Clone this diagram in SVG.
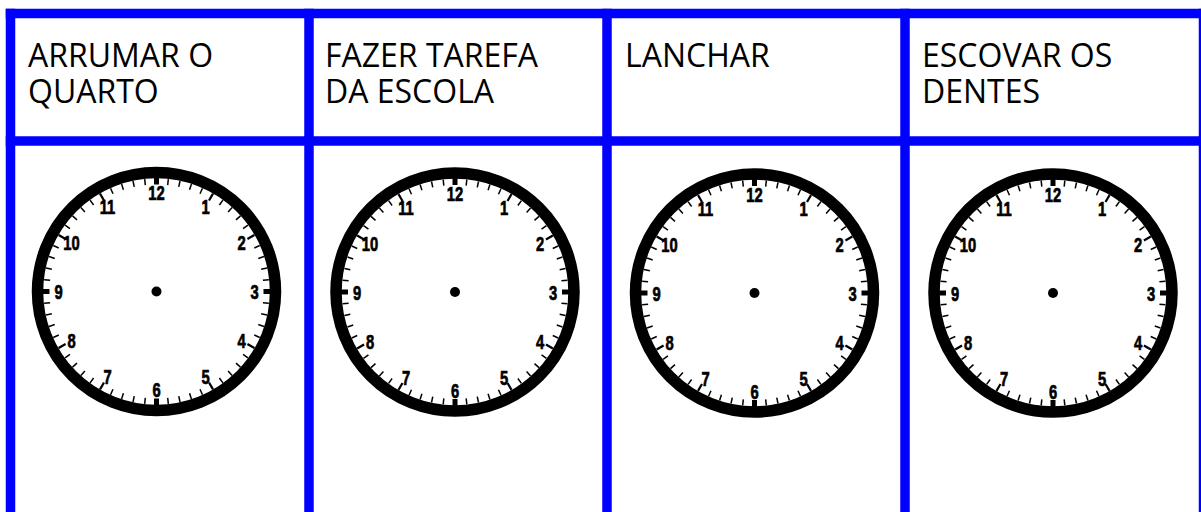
<svg xmlns="http://www.w3.org/2000/svg" xmlns:xlink="http://www.w3.org/1999/xlink" width="1201" height="512" viewBox="0 0 1201 512">
<style>
.grid line{stroke:#0000ff;stroke-width:9.5;stroke-linecap:square}
.title{font-family:"Open Sans","Noto Sans",sans-serif;font-size:32px;fill:#000}
.num{font-family:"Liberation Sans",Arial,sans-serif;font-weight:bold;font-size:20.5px;fill:#000;stroke:#000;stroke-width:0.7;text-anchor:middle}
.mt{stroke:#000;stroke-width:1.5}
.ht{stroke:#000;stroke-width:2.2}
</style>
<defs>
<line id="mt" class="mt" x1="0" y1="-113" x2="0" y2="-107"/>
<line id="ht" class="ht" x1="0" y1="-113" x2="0" y2="-105"/>
<rect id="qt" x="-2.5" y="-116" width="5" height="9" fill="#000"/>
<g id="clock">
<circle r="119" fill="#fff" stroke="#000" stroke-width="11.5"/>
<g>
<use xlink:href="#mt" transform="rotate(6)"/><use xlink:href="#mt" transform="rotate(12)"/><use xlink:href="#mt" transform="rotate(18)"/><use xlink:href="#mt" transform="rotate(24)"/>
<use xlink:href="#mt" transform="rotate(36)"/><use xlink:href="#mt" transform="rotate(42)"/><use xlink:href="#mt" transform="rotate(48)"/><use xlink:href="#mt" transform="rotate(54)"/>
<use xlink:href="#mt" transform="rotate(66)"/><use xlink:href="#mt" transform="rotate(72)"/><use xlink:href="#mt" transform="rotate(78)"/><use xlink:href="#mt" transform="rotate(84)"/>
<use xlink:href="#mt" transform="rotate(96)"/><use xlink:href="#mt" transform="rotate(102)"/><use xlink:href="#mt" transform="rotate(108)"/><use xlink:href="#mt" transform="rotate(114)"/>
<use xlink:href="#mt" transform="rotate(126)"/><use xlink:href="#mt" transform="rotate(132)"/><use xlink:href="#mt" transform="rotate(138)"/><use xlink:href="#mt" transform="rotate(144)"/>
<use xlink:href="#mt" transform="rotate(156)"/><use xlink:href="#mt" transform="rotate(162)"/><use xlink:href="#mt" transform="rotate(168)"/><use xlink:href="#mt" transform="rotate(174)"/>
<use xlink:href="#mt" transform="rotate(186)"/><use xlink:href="#mt" transform="rotate(192)"/><use xlink:href="#mt" transform="rotate(198)"/><use xlink:href="#mt" transform="rotate(204)"/>
<use xlink:href="#mt" transform="rotate(216)"/><use xlink:href="#mt" transform="rotate(222)"/><use xlink:href="#mt" transform="rotate(228)"/><use xlink:href="#mt" transform="rotate(234)"/>
<use xlink:href="#mt" transform="rotate(246)"/><use xlink:href="#mt" transform="rotate(252)"/><use xlink:href="#mt" transform="rotate(258)"/><use xlink:href="#mt" transform="rotate(264)"/>
<use xlink:href="#mt" transform="rotate(276)"/><use xlink:href="#mt" transform="rotate(282)"/><use xlink:href="#mt" transform="rotate(288)"/><use xlink:href="#mt" transform="rotate(294)"/>
<use xlink:href="#mt" transform="rotate(306)"/><use xlink:href="#mt" transform="rotate(312)"/><use xlink:href="#mt" transform="rotate(318)"/><use xlink:href="#mt" transform="rotate(324)"/>
<use xlink:href="#mt" transform="rotate(336)"/><use xlink:href="#mt" transform="rotate(342)"/><use xlink:href="#mt" transform="rotate(348)"/><use xlink:href="#mt" transform="rotate(354)"/>
<use xlink:href="#ht" transform="rotate(30)"/><use xlink:href="#ht" transform="rotate(60)"/><use xlink:href="#ht" transform="rotate(120)"/><use xlink:href="#ht" transform="rotate(150)"/>
<use xlink:href="#ht" transform="rotate(210)"/><use xlink:href="#ht" transform="rotate(240)"/><use xlink:href="#ht" transform="rotate(300)"/><use xlink:href="#ht" transform="rotate(330)"/>
<use xlink:href="#qt"/><use xlink:href="#qt" transform="rotate(90)"/><use xlink:href="#qt" transform="rotate(180)"/><use xlink:href="#qt" transform="rotate(270)"/>
</g>
<circle r="5" fill="#000"/>
<text class="num" transform="translate(0,-91.5) scale(0.72,1)">12</text>
<text class="num" transform="translate(49,-77.5) scale(0.72,1)">1</text>
<text class="num" transform="translate(85,-41.5) scale(0.72,1)">2</text>
<text class="num" transform="translate(98,7.5) scale(0.72,1)">3</text>
<text class="num" transform="translate(85,56.5) scale(0.72,1)">4</text>
<text class="num" transform="translate(49,92.5) scale(0.72,1)">5</text>
<text class="num" transform="translate(0,105.5) scale(0.72,1)">6</text>
<text class="num" transform="translate(-49,92.5) scale(0.72,1)">7</text>
<text class="num" transform="translate(-85,56.5) scale(0.72,1)">8</text>
<text class="num" transform="translate(-98,7.5) scale(0.72,1)">9</text>
<text class="num" transform="translate(-85,-41.5) scale(0.72,1)">10</text>
<text class="num" transform="translate(-49,-77.5) scale(0.72,1)">11</text>
</g>
</defs>
<rect width="1201" height="512" fill="#fff"/>
<g id="task1">
<text class="title" x="28" y="67">ARRUMAR O</text>
<text class="title" x="28" y="103">QUARTO</text>
<use xlink:href="#clock" transform="translate(156.5,291.5)"/>
</g>
<g id="task2">
<text class="title" x="325" y="67">FAZER TAREFA</text>
<text class="title" x="325" y="103">DA ESCOLA</text>
<use xlink:href="#clock" transform="translate(455,292)"/>
</g>
<g id="task3">
<text class="title" x="625" y="67">LANCHAR</text>
<use xlink:href="#clock" transform="translate(754.5,293)"/>
</g>
<g id="task4">
<text class="title" x="922" y="67">ESCOVAR OS</text>
<text class="title" x="922" y="103">DENTES</text>
<use xlink:href="#clock" transform="translate(1053,293)"/>
</g>
<g id="connectors" class="grid">
<line x1="10.5" y1="13.5" x2="1205" y2="13.5"/>
<line x1="10.5" y1="141" x2="1205" y2="141"/>
<line x1="10.5" y1="13.5" x2="10.5" y2="520"/>
<line x1="309" y1="13.5" x2="309" y2="520"/>
<line x1="607" y1="13.5" x2="607" y2="520"/>
<line x1="905" y1="13.5" x2="905" y2="520"/>
<line x1="1203.5" y1="13.5" x2="1203.5" y2="520"/>
</g>
</svg>
